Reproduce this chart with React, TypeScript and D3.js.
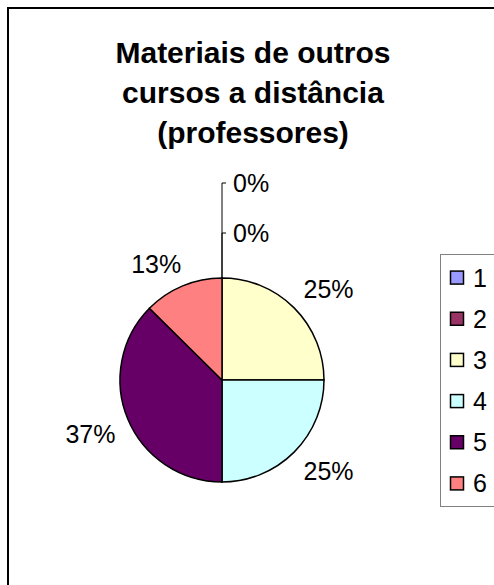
import React from "react";
import * as d3 from "d3";

const categories = ["1", "2", "3", "4", "5", "6"];
const values = [0, 0, 25, 25, 37.4, 12.6];
const colors = ["#9999FF", "#993366", "#FFFFCC", "#CCFFFF", "#660066", "#FF8080"];
const titleLines = ["Materiais de outros", "cursos a distância", "(professores)"];

const W = 494;
const H = 585;
const FONT = "'Liberation Sans', Arial, Helvetica, sans-serif";

export default function App() {
  const cx = 222;
  const cy = 380;
  const r = 102;
  const total = d3.sum(values);
  const pie = d3.pie<number>().sort(null).value((d) => d)(values);
  const arc = d3.arc<d3.PieArcDatum<number>>().innerRadius(0).outerRadius(r);
  const fmt = (v: number) => `${Math.round((v / total) * 100)}%`;
  const labelFont = 25;
  const lw = 49;
  const lh = 18;
  const R = 116;

  const zeroIdx = pie.map((p, i) => (p.value === 0 ? i : -1)).filter((i) => i >= 0);

  const legendY = d3.scaleBand<string>().domain(categories).range([257, 504]).paddingInner(0);

  return (
    <svg
      width={W}
      height={H}
      style={{ position: "absolute", left: 0, top: 0, background: "#fff" }}
      fontFamily={FONT}
    >
      <rect x={0} y={0} width={W} height={H} fill="#fff" />
      <rect x={8} y={8} width={520} height={620} fill="#fff" stroke="#000" strokeWidth={2} />
      {titleLines.map((t, i) => (
        <text key={i} x={253} y={63 + i * 40} textAnchor="middle" fontWeight="bold" fontSize={30}>
          {t}
        </text>
      ))}
      <g transform={`translate(${cx},${cy})`}>
        {pie.map((p, i) =>
          p.value > 0 ? (
            <path key={i} d={arc(p) || ""} fill={colors[i]} stroke="#000" strokeWidth={1.5} />
          ) : null
        )}
        {pie.map((p, i) => {
          if (p.value === 0) return null;
          const a = (p.startAngle + p.endAngle) / 2;
          const s = Math.sin(a);
          const c = -Math.cos(a);
          const px = R * s + Math.sign(s) * (lw / 2) * Math.min(1, Math.abs(s) * 1.2 + 0.4);
          const py = R * c + Math.sign(c) * (lh / 2);
          return (
            <text
              key={"l" + i}
              x={px}
              y={py}
              textAnchor="middle"
              dominantBaseline="central"
              fontSize={labelFont}
            >
              {fmt(p.value)}
            </text>
          );
        })}
        {zeroIdx.map((idx, k) => {
          const ly = -r - 45 - (zeroIdx.length - 1 - k) * 50;
          return (
            <g key={"z" + idx}>
              <path d={`M0,${-r}V${ly}H4`} fill="none" stroke="#000" strokeWidth={1} />
              <text x={11} y={ly} dominantBaseline="central" fontSize={labelFont}>
                {fmt(values[idx])}
              </text>
            </g>
          );
        })}
      </g>
      <rect x={440.5} y={254.5} width={60} height={252} fill="#fff" stroke="#808080" strokeWidth={1} />
      {categories.map((c, i) => {
        const y = (legendY(c) || 0) + legendY.bandwidth() / 2;
        return (
          <g key={"lg" + c}>
            <rect x={450.5} y={y - 6.5} width={13} height={13} fill={colors[i]} stroke="#000" strokeWidth={1.5} />
            <text x={473} y={y} dominantBaseline="central" fontSize={labelFont}>
              {c}
            </text>
          </g>
        );
      })}
    </svg>
  );
}
